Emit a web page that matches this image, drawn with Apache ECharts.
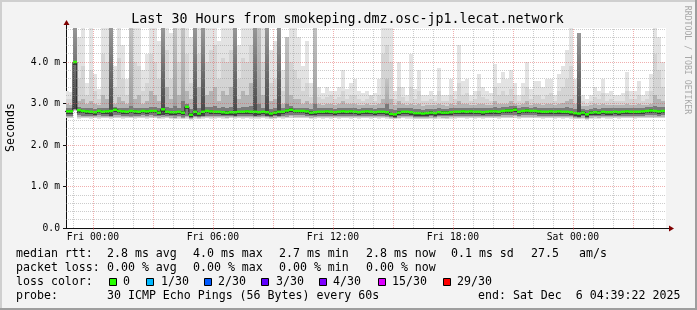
<!DOCTYPE html>
<html><head><meta charset="utf-8">
<script src="https://cdn.jsdelivr.net/npm/echarts@6/dist/echarts.min.js"></script>
<style>html,body{margin:0;padding:0;background:#f3f3f3}#c{width:697px;height:310px}</style>
</head><body><div id="c"></div>
<script>
// ---- time layout (hours relative to Fri 00:00) ----
const START_HOUR = -1.4;   // start of first 12-minute column
const STEP_HOURS = 0.2;    // 12-minute consolidation
const X_MIN = -1.344, X_MAX = 28.656;   // 30 hours ending Sat 04:39:22
const tickHours  = [0, 6, 12, 18, 24];
const tickLabels = ['Fri 00:00', 'Fri 06:00', 'Fri 12:00', 'Fri 18:00', 'Sat 00:00'];
const yTicks      = [0, 1, 2, 3, 4];
const yTickLabels = ['0.0', '1.0 m', '2.0 m', '3.0 m', '4.0 m'];
const Y_MAX = 4.82;

// ---- data (ms) per 12-minute column ----
const median = [
2.81,2.81,4.00,2.84,2.82,2.81,2.80,2.79,2.82,2.80,
2.81,2.82,2.85,2.82,2.81,2.80,2.82,2.81,2.80,2.82,
2.81,2.82,2.82,2.78,2.86,2.80,2.79,2.79,2.80,2.78,
2.92,2.73,2.80,2.76,2.80,2.82,2.81,2.80,2.80,2.79,
2.78,2.79,2.79,2.80,2.80,2.81,2.80,2.80,2.79,2.80,
2.79,2.76,2.78,2.80,2.80,2.83,2.85,2.82,2.82,2.82,
2.81,2.78,2.79,2.80,2.80,2.81,2.80,2.79,2.80,2.81,
2.80,2.81,2.80,2.79,2.80,2.81,2.80,2.79,2.80,2.80,
2.79,2.75,2.74,2.78,2.80,2.80,2.79,2.77,2.77,2.76,
2.77,2.78,2.77,2.79,2.78,2.78,2.79,2.80,2.80,2.81,
2.80,2.81,2.80,2.80,2.79,2.80,2.81,2.81,2.80,2.82,
2.83,2.83,2.85,2.80,2.82,2.83,2.82,2.82,2.81,2.80,
2.80,2.81,2.80,2.81,2.80,2.80,2.79,2.77,2.76,2.78,
2.74,2.78,2.79,2.78,2.80,2.79,2.79,2.80,2.79,2.80,
2.81,2.80,2.80,2.80,2.81,2.82,2.83,2.82,2.81,2.82];
const smokeMin = [
2.64,2.64,2.82,2.63,2.64,2.64,2.63,2.64,2.63,2.64,
2.64,2.63,2.64,2.64,2.63,2.64,2.64,2.63,2.64,2.64,
2.63,2.64,2.64,2.63,2.63,2.64,2.63,2.62,2.63,2.62,
2.63,2.61,2.63,2.62,2.63,2.64,2.63,2.63,2.64,2.63,
2.63,2.64,2.63,2.64,2.63,2.64,2.63,2.63,2.63,2.64,
2.63,2.62,2.63,2.64,2.63,2.64,2.65,2.64,2.64,2.64,
2.64,2.63,2.63,2.64,2.63,2.64,2.63,2.64,2.63,2.64,
2.64,2.63,2.64,2.63,2.64,2.64,2.63,2.64,2.63,2.64,
2.63,2.62,2.62,2.63,2.64,2.63,2.63,2.62,2.62,2.62,
2.62,2.63,2.62,2.63,2.63,2.62,2.63,2.63,2.64,2.64,
2.63,2.64,2.63,2.64,2.63,2.64,2.64,2.64,2.63,2.64,
2.65,2.64,2.65,2.63,2.64,2.65,2.64,2.64,2.64,2.63,
2.64,2.64,2.63,2.64,2.63,2.64,2.63,2.62,2.62,2.63,
2.61,2.63,2.63,2.63,2.64,2.63,2.63,2.64,2.63,2.64,
2.64,2.64,2.63,2.64,2.64,2.65,2.65,2.64,2.64,2.64];
const smokeLow = [
2.71,2.71,2.86,2.72,2.71,2.71,2.70,2.70,2.72,2.70,
2.71,2.71,2.73,2.72,2.71,2.70,2.71,2.71,2.70,2.72,
2.71,2.72,2.71,2.69,2.72,2.70,2.69,2.69,2.70,2.68,
2.70,2.66,2.70,2.68,2.70,2.71,2.71,2.70,2.70,2.70,
2.69,2.70,2.70,2.70,2.70,2.71,2.70,2.70,2.70,2.70,
2.70,2.68,2.69,2.70,2.70,2.72,2.73,2.72,2.72,2.72,
2.71,2.69,2.70,2.70,2.70,2.71,2.70,2.70,2.70,2.71,
2.70,2.71,2.70,2.70,2.70,2.71,2.70,2.70,2.70,2.70,
2.70,2.67,2.66,2.69,2.70,2.70,2.70,2.68,2.68,2.68,
2.68,2.69,2.68,2.70,2.69,2.69,2.70,2.70,2.70,2.71,
2.70,2.71,2.70,2.70,2.70,2.70,2.71,2.71,2.70,2.72,
2.72,2.72,2.73,2.70,2.72,2.72,2.72,2.72,2.71,2.70,
2.70,2.71,2.70,2.71,2.70,2.70,2.70,2.68,2.67,2.69,
2.66,2.69,2.70,2.69,2.70,2.70,2.70,2.70,2.70,2.70,
2.71,2.70,2.70,2.70,2.71,2.72,2.72,2.72,2.71,2.72];
const smokeP60 = [
2.88,2.88,4.82,2.91,2.90,2.88,2.88,2.87,2.89,2.90,
2.90,4.82,2.92,2.90,2.89,2.88,2.95,2.90,2.90,2.89,
2.89,2.92,2.92,2.88,4.82,2.92,2.88,2.95,2.90,3.05,
3.00,2.86,4.82,2.90,4.82,2.92,2.92,2.94,2.90,2.92,
2.90,2.92,4.82,2.90,2.92,2.92,2.93,4.82,3.00,2.90,
4.82,2.86,2.88,4.82,2.88,3.00,2.93,2.90,2.90,2.90,
2.90,2.87,3.00,2.88,2.88,2.89,2.88,2.87,2.88,2.89,
2.88,2.89,2.88,2.87,2.88,2.89,2.88,2.87,2.88,2.90,
3.00,2.86,2.84,2.88,2.88,2.88,2.88,2.86,2.86,2.85,
2.86,2.87,2.86,2.88,2.86,2.86,2.88,2.88,2.90,2.90,
2.89,2.89,2.88,2.89,2.88,2.88,2.89,2.91,2.88,2.91,
2.92,2.93,2.93,2.89,2.91,2.92,2.90,2.91,2.90,2.89,
2.89,2.90,2.88,2.90,2.90,2.91,2.90,2.87,4.70,2.87,
2.84,2.87,2.88,2.87,2.89,2.88,2.88,2.89,2.88,2.89,
2.90,2.89,2.89,2.89,2.90,2.91,2.92,2.95,2.92,2.91];
const smokeP75 = [
2.98,2.97,4.82,3.05,3.10,2.98,3.05,3.00,2.97,3.20,
3.10,4.82,3.00,3.15,3.05,2.98,4.82,3.10,3.20,3.00,
3.05,3.30,3.20,3.05,4.82,3.40,3.10,4.82,3.20,4.82,
3.30,3.10,4.82,3.40,4.82,3.20,3.30,3.40,3.05,3.30,
3.20,3.40,4.82,3.10,3.30,3.20,3.50,4.82,4.82,3.20,
4.82,3.05,3.10,4.82,3.00,4.60,3.20,3.10,3.10,3.00,
3.05,2.98,4.82,2.98,2.97,3.00,2.98,2.97,3.00,3.05,
2.98,3.00,3.00,2.97,2.96,2.98,2.97,2.96,3.00,3.10,
3.60,3.10,2.97,3.05,2.98,2.96,3.00,2.96,3.00,2.95,
2.96,2.97,2.96,3.00,2.96,2.95,2.98,2.96,3.05,3.00,
3.00,2.96,2.97,3.00,2.98,2.97,2.96,3.05,2.98,3.00,
3.00,3.05,2.98,2.96,2.98,3.05,2.97,3.00,2.98,2.97,
3.00,3.00,2.96,3.00,3.02,3.05,3.10,2.98,4.70,2.95,
2.93,2.96,2.98,2.97,3.00,2.96,2.97,2.96,2.96,2.96,
3.00,2.97,2.96,2.98,2.96,2.97,3.00,3.20,3.10,3.05];
const smokeP90 = [
3.10,3.10,4.82,3.60,3.90,3.20,3.80,3.30,3.10,4.20,
4.00,4.82,3.40,4.10,3.60,3.20,4.82,4.00,3.90,3.30,
3.50,4.20,4.00,3.60,4.82,4.30,3.60,4.82,4.00,4.82,
4.20,3.50,4.82,4.20,4.82,4.00,4.30,4.40,3.60,4.10,
4.00,4.30,4.82,3.60,4.10,4.00,4.40,4.82,4.82,4.00,
4.82,3.50,3.60,4.82,3.30,4.60,4.00,3.80,3.60,3.30,
3.50,3.15,4.82,3.15,3.10,3.15,3.20,3.10,3.15,3.30,
3.10,3.20,3.20,3.10,3.05,3.10,3.20,3.05,3.20,4.20,
4.40,4.00,3.10,3.40,3.15,3.05,3.40,3.10,3.30,3.05,
3.05,3.10,3.05,3.30,3.05,3.05,3.20,3.10,3.50,3.20,
3.25,3.05,3.10,3.30,3.15,3.10,3.05,3.40,3.20,3.30,
3.20,3.35,3.20,3.05,3.20,3.40,3.10,3.20,3.20,3.10,
3.20,3.25,3.05,3.30,3.40,3.60,3.90,3.20,4.70,3.05,
3.00,3.05,3.15,3.10,3.25,3.05,3.10,3.05,3.05,3.05,
3.30,3.10,3.10,3.20,3.05,3.10,3.30,4.20,3.80,3.40];
const smokeMax = [
3.30,3.28,4.82,4.60,4.82,3.50,4.82,3.70,3.35,4.82,
4.82,4.82,3.90,4.82,4.40,3.60,4.82,4.82,4.82,3.80,
4.20,4.82,4.82,4.50,4.82,4.82,4.70,4.82,4.82,4.82,
4.82,4.60,4.82,4.82,4.82,4.82,4.82,4.82,4.50,4.82,
4.82,4.82,4.82,4.40,4.82,4.82,4.82,4.82,4.82,4.82,
4.82,4.30,4.50,4.82,3.80,4.60,4.82,4.82,4.60,3.90,
4.50,3.50,4.82,3.40,3.25,3.40,3.30,3.30,3.40,3.80,
3.35,3.50,3.60,3.30,3.25,3.30,3.20,3.25,3.60,4.82,
4.82,4.82,3.30,4.00,3.40,3.20,4.20,3.35,3.80,3.20,
3.20,3.30,3.20,3.85,3.20,3.20,3.60,3.30,4.40,3.55,
3.60,3.20,3.30,3.70,3.40,3.30,3.25,3.95,3.50,3.75,
3.60,3.80,3.50,3.20,3.50,4.00,3.35,3.55,3.55,3.40,
3.60,3.60,3.20,3.70,3.90,4.30,4.82,3.60,4.70,3.20,
3.10,3.20,3.40,3.30,3.60,3.25,3.30,3.20,3.20,3.25,
3.75,3.30,3.30,3.55,3.20,3.30,3.70,4.82,4.60,4.00];

// ---- legend / caption texts ----
const lossLegend = [
  {label: '0',     color: '#26ff00'},
  {label: '1/30',  color: '#00b8ff'},
  {label: '2/30',  color: '#0059ff'},
  {label: '3/30',  color: '#5e00ff'},
  {label: '4/30',  color: '#7e00ff'},
  {label: '15/30', color: '#dd00ff'},
  {label: '29/30', color: '#ff0000'}
];

// ---- build series data ----
const cols = median.map((m, k) => [
  START_HOUR + k * STEP_HOURS, START_HOUR + (k + 1) * STEP_HOURS,
  smokeMin[k], smokeLow[k], m, smokeP60[k], smokeP75[k], smokeP90[k], smokeMax[k]
]);
const medianLine = median.map((m, k) => [START_HOUR + k * STEP_HOURS, m]);
medianLine.push([START_HOUR + median.length * STEP_HOURS, median[median.length - 1]]);

function grad(topC, botC) {
  return new echarts.graphic.LinearGradient(0, 0, 0, 1, [{offset: 0, color: topC}, {offset: 1, color: botC}]);
}
function bandRect(params, api, t0, t1, lo, hi, fill) {
  const a = api.coord([t0, hi]), b = api.coord([t1, lo]);
  const x0 = Math.round(a[0]), x1 = Math.round(b[0]);
  const y0 = Math.round(a[1]), y1 = Math.round(b[1]);
  const cs = params.coordSys;
  const shape = echarts.graphic.clipRectByRect(
    {x: x0, y: y0, width: x1 - x0, height: y1 - y0},
    {x: cs.x, y: cs.y, width: cs.width, height: cs.height});
  return shape ? {type: 'rect', shape, style: {fill}} : null;
}

function renderSmoke(params, api) {
  const t0 = api.value(0), t1 = api.value(1);
  const mn = api.value(2), lw = api.value(3), md = api.value(4);
  const p60 = api.value(5), p75 = api.value(6), p90 = api.value(7), mx = api.value(8);
  const ch = [
    bandRect(params, api, t0, t1, mn, mx, '#e3e3e3'),
    bandRect(params, api, t0, t1, mn + 0.01, p90, '#d4d4d4'),
    bandRect(params, api, t0, t1, (mn + lw) / 2, p75, p75 - md > 0.8 ? grad('#c2c2c2', '#9c9c9c') : '#b4b4b4'),
    bandRect(params, api, t0, t1, lw, p60, p60 - md > 0.8 ? grad('#979797', '#444444') : '#7a7a7a'),
    bandRect(params, api, t0, t1, md - 0.06, Math.min(md + 0.03, p60), '#3a3a3a')
  ].filter(Boolean);
  return {type: 'group', children: ch};
}

function renderLoss(params, api) {
  const t0 = api.value(0), t1 = api.value(1), md = api.value(4);
  const a = api.coord([t0, md]), b = api.coord([t1, md]);
  const x0 = Math.round(a[0]), x1 = Math.round(b[0]);
  const cs = params.coordSys;
  const shape = echarts.graphic.clipRectByRect(
    {x: x0, y: a[1] - 1.25, width: x1 - x0, height: 2.5},
    {x: cs.x, y: cs.y, width: cs.width, height: cs.height});
  return shape ? {type: 'rect', shape, style: {fill: lossLegend[0].color}} : null;
}

// grid lines (drawn over the smoke like rrdtool)
const GRID_MINOR = 'rgba(143,143,143,0.46)';
const GRID_MAJOR = 'rgba(222,80,80,0.46)';
const gridLines = [];
for (let h = Math.ceil(X_MIN); h <= Math.floor(X_MAX); h++) {
  gridLines.push({xAxis: h, lineStyle: {color: h % 3 === 0 ? GRID_MAJOR : GRID_MINOR}});
}
for (let i = 1; i * 0.2 < Y_MAX; i++) {
  const v = Math.round(i * 0.2 * 10) / 10;
  gridLines.push({yAxis: v, lineStyle: {color: i % 5 === 0 ? GRID_MAJOR : GRID_MINOR}});
}

const MONO = "'DejaVu Sans Mono', monospace";
const chart = echarts.init(document.getElementById('c'), null, {renderer: 'canvas'});

function txt(x, y, text, size, extra) {
  return Object.assign({type: 'text', x, y, silent: true,
    style: Object.assign({text, font: size + 'px ' + MONO, fill: '#000',
      verticalAlign: 'middle', align: 'left'}, extra || {})});
}

const legendRows = [
  [16, 254.4, ['median rtt:', 107, '2.8 ms avg', 193, '4.0 ms max', 279, '2.7 ms min', 366, '2.8 ms now', 451, '0.1 ms sd', 531, '27.5', 579, 'am/s']],
  [16, 268.4, ['packet loss:', 107, '0.00 % avg', 193, '0.00 % max', 279, '0.00 % min', 366, '0.00 % now']],
  [16, 282.4, ['loss color:']],
  [16, 296.4, ['probe:', 107, '30 ICMP Echo Pings (56 Bytes) every 60s', 478, 'end: Sat Dec  6 04:39:22 2025']]
];
const graphics = [
  {type: 'rect', shape: {x: 0, y: 0, width: 697, height: 2}, style: {fill: '#cfcfcf'}, silent: true},
  {type: 'rect', shape: {x: 0, y: 0, width: 2, height: 310}, style: {fill: '#cfcfcf'}, silent: true},
  {type: 'rect', shape: {x: 0, y: 308, width: 697, height: 2}, style: {fill: '#9e9e9e'}, silent: true},
  {type: 'rect', shape: {x: 695, y: 0, width: 2, height: 310}, style: {fill: '#9e9e9e'}, silent: true},
  txt(347.5, 19.7, 'Last 30 Hours from smokeping.dmz.osc-jp1.lecat.network', 13.3, {align: 'center'}),
  Object.assign(txt(11, 127.5, 'Seconds', 11.6, {align: 'center'}), {rotation: Math.PI / 2}),
  Object.assign(txt(687, 60, 'RRDTOOL / TOBI OETIKER', 8.2, {align: 'center', fill: '#a8a8a8'}), {rotation: -Math.PI / 2})
];
legendRows.forEach(([x, y, parts]) => {
  graphics.push(txt(x, y, parts[0], 11.6));
  for (let i = 1; i < parts.length; i += 2) graphics.push(txt(parts[i], y, parts[i + 1], 11.6));
});
const lossBoxX = [109, 146, 204, 261, 319, 378, 443];
const lossTextX = [123, 161, 218, 276, 333, 392, 457];
lossLegend.forEach((it, i) => {
  graphics.push({type: 'rect', silent: true, shape: {x: lossBoxX[i] + 0.5, y: 278.5, width: 7, height: 7},
    style: {fill: it.color, stroke: '#000', lineWidth: 1}});
  graphics.push(txt(lossTextX[i], 282.4, it.label, 11.6));
});

chart.setOption({
  animation: false,
  backgroundColor: '#f3f3f3',
  grid: {left: 66, top: 28, width: 600, height: 200, show: true, backgroundColor: '#ffffff', borderWidth: 0},
  xAxis: {
    type: 'value', min: X_MIN, max: X_MAX,
    splitLine: {show: false},
    axisLine: {onZero: false, lineStyle: {color: '#101010', width: 1}},
    axisTick: {show: true, customValues: tickHours, length: 2, lineStyle: {color: GRID_MAJOR}},
    axisLabel: {customValues: tickHours, margin: 4, color: '#000', fontFamily: MONO, fontSize: 9.7,
      formatter: v => tickLabels[tickHours.indexOf(v)] || ''}
  },
  yAxis: {
    type: 'value', min: 0, max: Y_MAX, interval: 1,
    splitLine: {show: false},
    axisLine: {show: true, onZero: false, lineStyle: {color: '#101010', width: 1}},
    axisTick: {show: true, length: 3, lineStyle: {color: '#101010'}},
    axisLabel: {margin: 6, color: '#000', fontFamily: MONO, fontSize: 9.7, showMaxLabel: false,
      formatter: v => { const i = yTicks.indexOf(v); return i >= 0 ? yTickLabels[i] : ''; }}
  },
  series: [
    {type: 'custom', name: 'smoke', renderItem: renderSmoke, data: cols, z: 2, silent: true,
      encode: {x: [0, 1], y: [2, 8]}},
    {type: 'line', name: 'median', data: medianLine, step: 'end', showSymbol: false, symbol: 'none',
      lineStyle: {color: '#202020', width: 1}, z: 3, silent: true,
      markLine: {silent: true, symbol: 'none', label: {show: false}, animation: false,
        lineStyle: {type: [1, 1], width: 1}, data: gridLines}},
    {type: 'custom', name: 'loss 0', renderItem: renderLoss, data: cols, z: 4, silent: true,
      encode: {x: [0, 1], y: 4}}
  ],
  graphic: graphics
});

// axis arrows
const pTL = chart.convertToPixel({gridIndex: 0}, [X_MIN, Y_MAX]);
const pBR = chart.convertToPixel({gridIndex: 0}, [X_MAX, 0]);
const arX = Math.round(pTL[0]) + 0.5, arY = Math.round(pBR[1]) + 0.5;
const plotTop = Math.round(pTL[1]), plotRight = Math.round(pBR[0]);
chart.setOption({graphic: graphics.concat([
  {type: 'line', silent: true, shape: {x1: arX, y1: plotTop, x2: arX, y2: plotTop - 3}, style: {stroke: '#101010', lineWidth: 1}},
  {type: 'polygon', silent: true, shape: {points: [[arX, plotTop - 8], [arX - 3, plotTop - 3], [arX + 3, plotTop - 3]]}, style: {fill: '#7f0000'}},
  {type: 'line', silent: true, shape: {x1: plotRight, y1: arY, x2: plotRight + 3, y2: arY}, style: {stroke: '#101010', lineWidth: 1}},
  {type: 'polygon', silent: true, shape: {points: [[plotRight + 8, arY], [plotRight + 3, arY - 3], [plotRight + 3, arY + 3]]}, style: {fill: '#7f0000'}}
])});
</script></body></html>
